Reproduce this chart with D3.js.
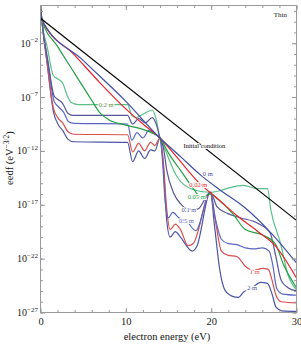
<!DOCTYPE html>
<html>
<head>
<meta charset="utf-8">
<script src="https://cdn.jsdelivr.net/npm/d3@7"></script>
<style>
  body { margin: 0; background: #fff; }
  svg { display: block; }
</style>
</head>
<body>
<svg width="301" height="344"></svg>
<script>
// tick values
const xTicks = [0, 10, 20, 30];
const xMinor = d3.range(0, 31, 2);
const yTickExp = [-27, -22, -17, -12, -7, -2];
const yMinorExp = d3.range(-27, 2, 1);

// log10(eedf), per curve
const initE = [0, 30];
const initV = [0.32, -18.45];

const e0 = [0, 0.15, 5, 10, 14, 16.5, 18.7, 21, 24, 27, 30];
const v0 = [1.5, 0.2, -3.6, -7.4, -10.8, -12.6, -14.2, -15.6, -17.3, -19.6, -22.4];

const e002 = [0, 0.15, 4, 7, 10, 12, 14, 16, 18.5, 21, 23, 25.5, 27.5, 30];
const v002 = [1.5, 0.2, -3.1, -5.7, -8.1, -9.5, -10.8, -12.6, -14.9, -16.6, -18.0, -19.5, -20.8, -23.8];

const e005 = [0, 0.15, 2, 4, 6, 7, 8, 10, 12, 13, 14, 15, 16.5, 18, 18.8, 19.9, 20.8, 22.5, 24, 26, 27.5, 28.5, 30];
const v005 = [1.5, 0.2, -2.3, -4.8, -7.3, -8.5, -9.1, -9.6, -10.0, -10.3, -10.8, -12.2, -13.9, -15.6, -16.3, -16.0, -16.5, -17.8, -19.3, -19.8, -20.6, -22.6, -24.7];

const e01 = [0, 0.15, 0.9, 1.6, 2.0, 2.6, 3.2, 3.8, 10.2, 10.8, 11.5, 12.3, 13.1, 13.6, 14, 14.4, 14.8, 15.6, 16.4, 17.2, 18.4, 19.9, 20.7, 21.9, 23.4, 25.4, 26.9, 27.5, 28.2, 29, 30];
const v01 = [1.5, 0.2, -3.8, -6.9, -7.2, -7.6, -8.5, -8.7, -8.7, -9.5, -9.0, -9.4, -8.9, -9.6, -10.8, -11.7, -13.8, -15.9, -16.9, -17.4, -17.4, -15.85, -17.2, -17.8, -18.2, -18.7, -19.6, -21.5, -24.0, -24.7, -25.0];

const e02 = [0, 0.15, 0.8, 1.5, 2.0, 2.6, 3.1, 3.6, 4.5, 10.2, 10.7, 11.2, 12.2, 13.1, 13.5, 14, 14.4, 16, 17.9, 19.9, 21, 22.2, 23.8, 25.4, 26.6, 27, 28.1, 29, 30];
const v02 = [1.5, 0.2, -2.4, -5.0, -5.3, -5.7, -6.8, -7.5, -7.7, -7.7, -8.7, -8.9, -8.5, -8.2, -8.9, -10.8, -11.5, -14.4, -15.6, -15.85, -15.7, -15.4, -15.2, -15.5, -15.5, -17.5, -20.5, -23.5, -24.9];

const e05 = [0, 0.15, 0.9, 1.6, 2.1, 2.7, 3.3, 3.9, 10.2, 10.7, 11.3, 12, 12.7, 13.3, 14, 14.3, 14.6, 15, 15.5, 16.2, 17.2, 18.2, 19.9, 20.5, 21.2, 22, 23, 24, 25, 26, 26.8, 27.2, 27.7, 28.4, 30];
const v05 = [1.5, 0.2, -4.0, -7.4, -7.9, -8.4, -9.3, -9.45, -9.5, -11.0, -10.3, -10.8, -10.1, -10.4, -10.8, -12.9, -16.6, -18.2, -17.7, -18.2, -18.6, -19.4, -15.85, -18.3, -20.2, -20.6, -20.7, -21.0, -21.1, -21.0, -21.3, -22.5, -24.8, -25.3, -25.4];

const e1 = [0, 0.15, 0.8, 1.5, 2.1, 2.6, 3.2, 3.9, 10.2, 10.8, 11.5, 12.2, 12.9, 13.4, 14, 14.4, 14.8, 15.2, 15.8, 16.4, 17.3, 17.9, 19.9, 20.5, 21.2, 22, 23, 24, 25, 26, 26.7, 27.1, 27.6, 28.2, 30];
const v1 = [1.5, 0.2, -4.0, -8.0, -9.0, -9.4, -10.2, -10.45, -10.5, -12.1, -11.3, -12.0, -11.2, -11.5, -10.8, -13.0, -17.5, -19.3, -18.8, -19.3, -20.8, -20.6, -15.85, -18.5, -21.3, -21.7, -21.8, -22.7, -23.1, -22.9, -23.0, -23.9, -25.4, -26.0, -26.1];

const e2 = [0, 0.15, 0.8, 1.5, 2.1, 2.6, 3.2, 3.9, 10.2, 10.8, 11.5, 12.2, 12.9, 13.4, 14, 14.4, 14.8, 15.2, 15.8, 16.4, 17.8, 18.3, 19.9, 20.4, 21, 21.6, 22.5, 23.2, 23.8, 24.8, 25.8, 26.6, 27.1, 27.6, 28.3, 30];
const v2 = [1.5, 0.2, -4.0, -8.3, -9.6, -10.1, -10.9, -11.15, -11.2, -13.0, -12.0, -12.7, -11.9, -12.0, -10.8, -13.5, -18.5, -20.0, -19.5, -20.0, -21.3, -20.9, -15.85, -19.0, -23.0, -24.9, -25.5, -25.6, -25.1, -24.7, -24.2, -24.3, -25.2, -26.5, -26.85, -26.9];

// curve labels: text, energy, log10 value
const labelText = ['Initial condition', '0 m', '0.02 m', '0.05 m', '0.1 m', '0.2 m', '0.5 m', '1 m', '2 m'];
const labelE = [19.2, 19.6, 18.5, 18.3, 17.4, 7.7, 17.1, 25.1, 24.8];
const labelV = [-11.5, -14.1, -15.2, -16.3, -17.5, -7.75, -18.55, -23.2, -24.7];

const series = [
    {e: e2, v: v2, color: '#4b55a6'},
    {e: e1, v: v1, color: '#d9504f'},
    {e: e05, v: v05, color: '#5b66c2'},
    {e: e02, v: v02, color: '#5cc08a'},
    {e: e01, v: v01, color: '#56569a'},
    {e: e005, v: v005, color: '#23a045'},
    {e: e002, v: v002, color: '#e8262a'},
    {e: e0, v: v0, color: '#3f4fa5'},
    {e: initE, v: initV, color: '#000'}
];
const labelColor = ['#000', '#3f4fa5', '#e8262a', '#23a045', '#56569a', '#6f8a3a', '#5b66c2', '#d9504f', '#4b55a6'];

const svg = d3.select('svg');
const serif = 'Liberation Serif, Times New Roman, serif';

const pLeft = 40.5, pRight = 296.5, pTop = 5.5, pBottom = 312.5;

const x = d3.scaleLinear().domain([0, 30]).range([pLeft, pRight]);
const y = d3.scaleLog().domain([1e-27, Math.pow(10, 1.5)]).range([pBottom, pTop]);

svg.append('defs').append('clipPath').attr('id', 'plot')
    .append('rect')
    .attr('x', pLeft).attr('y', pTop)
    .attr('width', pRight - pLeft).attr('height', pBottom - pTop);

// curves
const line = d3.line()
    .x(d => x(d[0]))
    .y(d => y(Math.pow(10, d[1])))
    .curve(d3.curveMonotoneX);

const curves = svg.append('g').attr('clip-path', 'url(#plot)');
series.forEach(s => {
    curves.append('path')
        .attr('d', line(d3.zip(s.e, s.v)))
        .attr('fill', 'none')
        .attr('stroke', s.color)
        .attr('stroke-width', 1.2);
});

// frame and inward ticks
const frame = '#9a9a9a';
function styleAxis(g) {
    g.select('.domain').remove();
    g.selectAll('line').attr('stroke', frame);
    g.selectAll('text').attr('font-family', serif).attr('font-size', 10.5).attr('fill', '#222');
}

svg.append('g').attr('transform', `translate(0,${pBottom})`)
    .call(d3.axisBottom(x).tickValues(xMinor).tickSize(-2.5).tickFormat(''))
    .call(styleAxis);
svg.append('g').attr('transform', `translate(0,${pBottom})`)
    .call(d3.axisBottom(x).tickValues(xTicks).tickSize(-4.5).tickPadding(5).tickFormat(d3.format('d')))
    .call(styleAxis);
svg.append('g').attr('transform', `translate(0,${pTop})`)
    .call(d3.axisTop(x).tickValues(xMinor).tickSize(-2.5).tickFormat(''))
    .call(styleAxis);
svg.append('g').attr('transform', `translate(0,${pTop})`)
    .call(d3.axisTop(x).tickValues(xTicks).tickSize(-4.5).tickFormat(''))
    .call(styleAxis);

const yMinor = yMinorExp.map(p => Math.pow(10, p));
const yMajor = yTickExp.map(p => Math.pow(10, p));
svg.append('g').attr('transform', `translate(${pLeft},0)`)
    .call(d3.axisLeft(y).tickValues(yMinor).tickSize(-2.5).tickFormat(''))
    .call(styleAxis);
svg.append('g').attr('transform', `translate(${pLeft},0)`)
    .call(d3.axisLeft(y).tickValues(yMajor).tickSize(-4.5).tickFormat(''))
    .call(styleAxis);
svg.append('g').attr('transform', `translate(${pRight},0)`)
    .call(d3.axisRight(y).tickValues(yMinor).tickSize(-2.5).tickFormat(''))
    .call(styleAxis);
svg.append('g').attr('transform', `translate(${pRight},0)`)
    .call(d3.axisRight(y).tickValues(yMajor).tickSize(-4.5).tickFormat(''))
    .call(styleAxis);

svg.append('rect')
    .attr('x', pLeft).attr('y', pTop)
    .attr('width', pRight - pLeft).attr('height', pBottom - pTop)
    .attr('fill', 'none')
    .attr('stroke', frame)
    .attr('stroke-width', 1);

// y tick labels 10^n
yTickExp.forEach(p => {
    const t = svg.append('text')
        .attr('x', 38)
        .attr('y', y(Math.pow(10, p)) + 3.5)
        .attr('text-anchor', 'end')
        .attr('font-family', serif)
        .attr('font-size', 10)
        .attr('fill', '#222');
    t.append('tspan').text('10');
    t.append('tspan').attr('dy', -4.5).attr('font-size', 7).text('\u2212' + Math.abs(p));
});

// axis titles
svg.append('text')
    .attr('x', 167).attr('y', 340)
    .attr('text-anchor', 'middle')
    .attr('font-family', serif)
    .attr('font-size', 10.5)
    .attr('fill', '#111')
    .text('electron energy (eV)');

const yt = svg.append('text')
    .attr('transform', 'translate(13,158) rotate(-90)')
    .attr('text-anchor', 'middle')
    .attr('font-family', serif)
    .attr('font-size', 10.5)
    .attr('fill', '#111');
yt.append('tspan').text('eedf (eV');
yt.append('tspan').attr('dy', -4).attr('font-size', 7.5).text('\u22123/2');
yt.append('tspan').attr('dy', 4).text(')');

svg.append('text')
    .attr('x', 287).attr('y', 17)
    .attr('text-anchor', 'end')
    .attr('font-family', serif)
    .attr('font-size', 7)
    .attr('fill', '#222')
    .text('Thin');

// curve labels
labelText.forEach((t, i) => {
    svg.append('text')
        .attr('x', x(labelE[i]))
        .attr('y', y(Math.pow(10, labelV[i])) + 2)
        .attr('text-anchor', 'middle')
        .attr('font-family', serif)
        .attr('font-size', 6.5)
        .attr('fill', labelColor[i])
        .attr('stroke', '#fff')
        .attr('stroke-width', 2)
        .attr('paint-order', 'stroke')
        .text(t);
});
</script>
</body>
</html>
